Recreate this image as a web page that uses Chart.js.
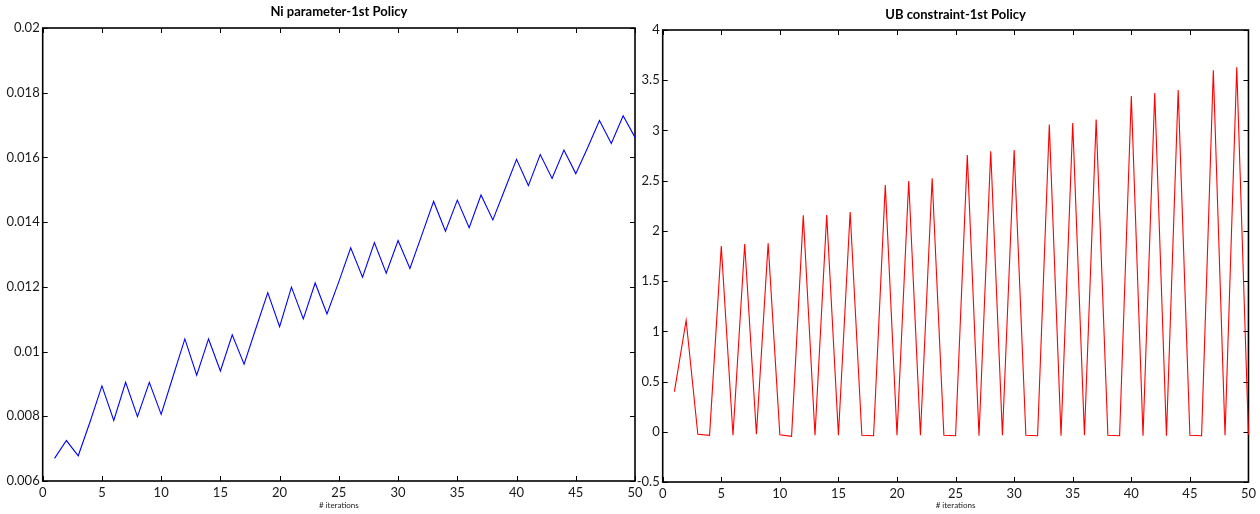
<!DOCTYPE html>
<html>
<head>
<meta charset="utf-8">
<script src="https://cdn.jsdelivr.net/npm/chart.js@4/dist/chart.umd.min.js"></script>
<style>
  html, body { margin: 0; padding: 0; background: #fff; }
  #wrap { position: relative; width: 1260px; height: 514px; }
  canvas { position: absolute; left: 0; top: 0; }
</style>
</head>
<body>
<div id="wrap">
  <canvas id="c1" width="1260" height="514"></canvas>
  <canvas id="c2" width="1260" height="514"></canvas>
</div>
<script>
// ---- data ----
const iterations = [1,2,3,4,5,6,7,8,9,10,11,12,13,14,15,16,17,18,19,20,21,22,23,24,25,
                    26,27,28,29,30,31,32,33,34,35,36,37,38,39,40,41,42,43,44,45,46,47,48,49,50];
const niValues = [0.00670,0.00725,0.00678,0.00783,0.00894,0.00787,0.00905,0.00799,0.00905,0.00806,
                  0.00923,0.01039,0.00927,0.01039,0.00940,0.01052,0.00961,0.01072,0.01182,0.01077,
                  0.01199,0.01101,0.01212,0.01116,0.01216,0.01321,0.01230,0.01337,0.01242,0.01343,
                  0.01257,0.01360,0.01464,0.01372,0.01468,0.01383,0.01484,0.01407,0.01500,0.01594,
                  0.01513,0.01609,0.01535,0.01623,0.01550,0.01630,0.01714,0.01643,0.01729,0.01662];
const ubValues = [0.40,1.11,-0.025,-0.035,1.85,-0.035,1.87,-0.025,1.876,-0.03,
                  -0.045,2.155,-0.035,2.158,-0.035,2.188,-0.035,-0.04,2.457,-0.035,
                  2.497,-0.035,2.524,-0.035,-0.04,2.756,-0.04,2.792,-0.035,2.806,
                  -0.035,-0.04,3.06,-0.04,3.075,-0.035,3.108,-0.035,-0.04,3.343,
                  -0.04,3.373,-0.04,3.403,-0.035,-0.04,3.599,-0.035,3.629,-0.03];
const xTicks = [0,5,10,15,20,25,30,35,40,45,50];
const xTickLabels = ['0','5','10','15','20','25','30','35','40','45','50'];
const niYTicks = [0.006,0.008,0.010,0.012,0.014,0.016,0.018,0.020];
const niYTickLabels = ['0.006','0.008','0.01','0.012','0.014','0.016','0.018','0.02'];
const ubYTicks = [-0.5,0,0.5,1,1.5,2,2.5,3,3.5,4];
const ubYTickLabels = ['-0.5','0','0.5','1','1.5','2','2.5','3','3.5','4'];
const titles = ['Ni parameter-1st Policy', 'UB constraint-1st Policy'];
const xTitle = '# iterations';

// ---- helpers ----
const FONT = 'Lato, "Open Sans", sans-serif';

const boxPlugin = {
  id: 'matlabBox',
  beforeDatasetsDraw(chart) {
    const {ctx, chartArea: a, scales} = chart;
    ctx.save();
    ctx.strokeStyle = '#000';
    ctx.lineWidth = 1;
    const L = 5;
    ctx.beginPath();
    scales.x.ticks.forEach(t => {
      const px = Math.round(scales.x.getPixelForValue(t.value)) + 0.5;
      ctx.moveTo(px, a.top); ctx.lineTo(px, a.top + L);
      ctx.moveTo(px, a.bottom); ctx.lineTo(px, a.bottom - L);
    });
    scales.y.ticks.forEach(t => {
      const py = Math.round(scales.y.getPixelForValue(t.value)) + 0.5;
      ctx.moveTo(a.left, py); ctx.lineTo(a.left + L, py);
      ctx.moveTo(a.right, py); ctx.lineTo(a.right - L, py);
    });
    ctx.stroke();
    ctx.lineWidth = 1.6;
    ctx.strokeRect(a.left, a.top, a.right - a.left, a.bottom - a.top);
    ctx.restore();
  }
};

function makeChart(id, values, color, yTicks, yLabels, yMin, yMax, title, pad, yWidth, titlePad, xHeight) {
  return new Chart(document.getElementById(id), {
    type: 'line',
    data: {
      datasets: [{
        data: iterations.map((x, i) => ({x: x, y: values[i]})),
        borderColor: color,
        borderWidth: 1.1,
        pointRadius: 0,
        tension: 0,
        fill: false,
        clip: 2
      }]
    },
    options: {
      responsive: false,
      animation: false,
      events: [],
      layout: { padding: pad, autoPadding: false },
      plugins: {
        legend: { display: false },
        tooltip: { enabled: false },
        title: {
          display: true,
          text: title,
          fullSize: false,
          color: '#000',
          font: { family: FONT, size: 13, weight: 'bold', lineHeight: 1.2 },
          padding: titlePad
        }
      },
      scales: {
        x: {
          type: 'linear',
          min: 0, max: 50,
          afterBuildTicks: s => { s.ticks = xTicks.map(v => ({value: v})); },
          afterFit: s => { s.height = xHeight; },
          grid: { display: true, drawOnChartArea: false, drawTicks: false },
          border: { display: false },
          ticks: {
            padding: 4,
            color: '#1a1a1a',
            maxRotation: 0,
            autoSkip: false,
            font: { family: FONT, size: 13 },
            callback: (v) => xTickLabels[xTicks.indexOf(v)]
          },
          title: {
            display: true,
            text: xTitle,
            color: '#222',
            font: { family: FONT, size: 8, lineHeight: 1.2 },
            padding: { top: 0, bottom: 3.6 }
          }
        },
        y: {
          type: 'linear',
          min: yMin, max: yMax,
          afterBuildTicks: s => { s.ticks = yTicks.map(v => ({value: v})); },
          afterFit: s => { s.width = yWidth; },
          grid: { display: true, drawOnChartArea: false, drawTicks: false },
          border: { display: false },
          ticks: {
            padding: 3,
            color: '#1a1a1a',
            autoSkip: false,
            font: { family: FONT, size: 13 },
            callback: (v) => {
              const i = yTicks.findIndex(t => Math.abs(t - v) < 1e-9);
              return i >= 0 ? yLabels[i] : '';
            }
          }
        }
      }
    },
    plugins: [boxPlugin]
  });
}

makeChart('c1', niValues, '#0000ff', niYTicks, niYTickLabels, 0.006, 0.020, titles[0],
          { left: 0, right: 625, top: 0, bottom: 0 }, 42.7,
          { top: 4, bottom: 8.4 }, 33);
makeChart('c2', ubValues, '#ff0000', ubYTicks, ubYTickLabels, -0.5, 4, titles[1],
          { left: 620, right: 6, top: 0, bottom: 0 }, 42.7,
          { top: 7, bottom: 7.4 }, 32);
</script>
</body>
</html>
